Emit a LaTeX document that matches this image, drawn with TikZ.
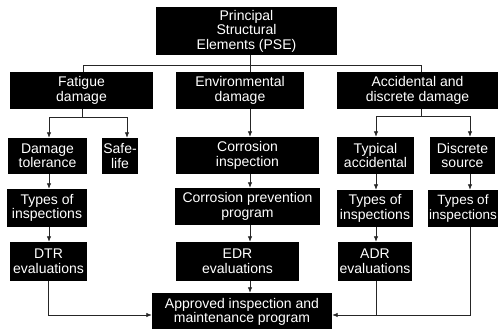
\documentclass[tikz,border=0pt]{standalone}
\usepackage{fontspec}
\setmainfont{Liberation Sans}
\usepackage{tikz}
\usetikzlibrary{arrows.meta}

\begin{document}
\begin{tikzpicture}[
  x=1pt,
  y=-1pt,
  blockbox/.style={fill=black, text=white, align=center, inner sep=0pt,
    font=\fontsize{14}{14.5}\selectfont},
  dims/.style 2 args={minimum width=#1pt, minimum height=#2pt},
  link/.style={draw=black!85, line width=0.8pt},
  feed/.style={link, -{Latex[length=5.5pt, width=4.5pt]}}
]
  \useasboundingbox (0,0) rectangle (498,329);

  \node[blockbox, dims={181}{48}] (pse) at (246.5,31) {Principal\\Structural\\Elements (PSE)};

  \node[blockbox, dims={143}{37}] (fatigue) at (81.5,90.5) {Fatigue\\damage};
  \node[blockbox, dims={128}{37}] (envir) at (240,90.5) {Environmental\\damage};
  \node[blockbox, dims={161}{37}] (accid) at (417.5,90.5) {Accidental and\\discrete damage};

  \node[blockbox, dims={79}{36}] (damtol) at (47.5,156) {Damage\\tolerance};
  \node[blockbox, dims={36}{36}] (safelife) at (120,156) {Safe-\\life};
  \node[blockbox, dims={143}{37}] (corrinsp) at (247.5,155.5) {Corrosion\\inspection};
  \node[blockbox, dims={77}{37}] (typacc) at (375.5,155.5) {Typical\\accidental};
  \node[blockbox, dims={65}{37}] (discsrc) at (462.5,155.5) {Discrete\\source};

  \node[blockbox, dims={80}{38}] (typesA) at (47,208) {Types of\\inspections};
  \node[blockbox, dims={145}{37}] (corrprev) at (247.5,206.5) {Corrosion prevention\\program};
  \node[blockbox, dims={76}{37}] (typesC) at (375,208.5) {Types of\\inspections};
  \node[blockbox, dims={70}{37}, font=\fontsize{13.5}{14.5}\selectfont] (typesD) at (463,208.5) {Types of\\inspections};

  \node[blockbox, dims={77}{39}] (dtr) at (48.5,261.5) {DTR\\evaluations};
  \node[blockbox, dims={123}{39}] (edr) at (237.5,261.5) {EDR\\evaluations};
  \node[blockbox, dims={74}{39}] (adr) at (375,261.5) {ADR\\evaluations};

  \node[blockbox, dims={180}{38}] (approved) at (242,312) {Approved inspection and\\maintenance program};

  \coordinate (busL) at (83,65);
  \coordinate (busM) at (250,65);
  \coordinate (busR) at (421,65);
  \coordinate (forkA) at (82,117);
  \coordinate (forkC) at (421,116);
  \coordinate (colA) at (49,0);
  \coordinate (colB) at (127,0);
  \coordinate (colC) at (376,0);
  \coordinate (colD) at (470,0);
  \coordinate (joinA) at (48,315);
  \coordinate (joinD) at (470,315);

  \draw[link] (pse.south -| busM) -- (busM);
  \draw[link] (fatigue.north -| busL) -- (busL) -- (busR) -- (accid.north -| busR);
  \draw[link] (busM) -- (envir.north -| busM);

  \draw[link] (fatigue.south -| forkA) -- (forkA);
  \draw[feed] (forkA) -| (damtol.north -| colA);
  \draw[feed] (forkA) -| (safelife.north -| colB);
  \draw[link] (accid.south -| forkC) -- (forkC);
  \draw[feed] (forkC) -| (typacc.north -| colC);
  \draw[feed] (forkC) -| (discsrc.north -| colD);

  \draw[feed] (envir.south -| busM) -- (corrinsp.north -| busM);
  \draw[feed] (corrinsp.south -| busM) -- (corrprev.north -| busM);
  \draw[feed] (corrprev.south -| busM) -- (edr.north -| busM);
  \draw[feed] (edr.south -| busM) -- (approved.north -| busM);

  \draw[feed] (damtol.south -| colA) -- (typesA.north -| colA);
  \draw[feed] (typesA.south -| colA) -- (dtr.north -| colA);
  \draw[feed] (typacc.south -| colC) -- (typesC.north -| colC);
  \draw[feed] (typesC.south -| colC) -- (adr.north -| colC);
  \draw[feed] (discsrc.south -| colD) -- (typesD.north -| colD);

  \draw[feed] (dtr.south -| joinA) -- (joinA) -- (approved.west |- joinA);
  \draw[feed] (typesD.south -| joinD) -- (joinD) -- (approved.east |- joinD);
  \draw[link] (adr.south -| colC) -- (colC |- joinD);
\end{tikzpicture}
\end{document}
